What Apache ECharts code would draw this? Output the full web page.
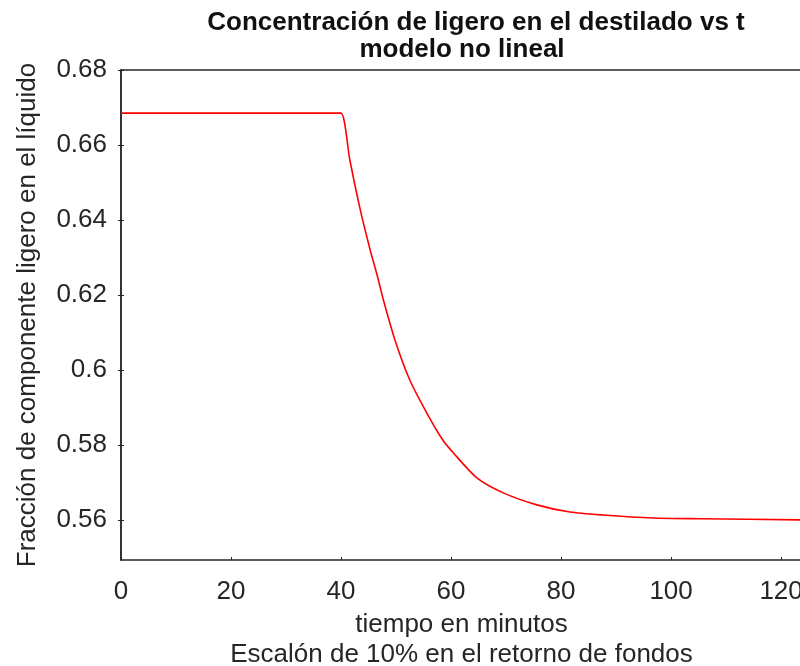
<!DOCTYPE html>
<html>
<head>
<meta charset="utf-8">
<script src="https://cdn.jsdelivr.net/npm/echarts@6/dist/echarts.min.js"></script>
<style>
  html, body { margin: 0; padding: 0; background: #ffffff; }
  #chart { width: 800px; height: 666px; }
</style>
</head>
<body>
<div id="chart"></div>
<script>
// Distillate light-component fraction after a 10% step in bottoms return
const tiempo = [0, 38, 40, 41.6, 43.5, 45.3, 46.7, 47.6, 49.8, 52.5, 55.6, 58.5, 60.4, 64.7, 69.5, 75.6, 81.6, 87.6, 96.7, 105.3, 124];
const fraccion = [0.6685, 0.6685, 0.6685, 0.656, 0.6427, 0.632, 0.6245, 0.6192, 0.608, 0.5973, 0.5885, 0.5813, 0.5779, 0.5712, 0.5672, 0.564, 0.5621, 0.5613, 0.5605, 0.5603, 0.5600];
const xTicks = [0, 20, 40, 60, 80, 100, 120];
const yTicks = [0.56, 0.58, 0.60, 0.62, 0.64, 0.66, 0.68];

const ink = '#262626';
const font = 'Liberation Sans, Arial, Helvetica, sans-serif';

const chart = echarts.init(document.getElementById('chart'), null, { renderer: 'canvas' });

const titleStyle = {
  fontFamily: font,
  fontSize: 26,
  fontWeight: 'bold',
  color: '#111111'
};

chart.setOption({
  backgroundColor: '#ffffff',
  animation: false,
  title: [
    {
      text: 'Concentración de ligero en el destilado vs t',
      left: 471,
      top: 5,
      textAlign: 'center',
      textStyle: titleStyle
    },
    {
      text: 'modelo no lineal',
      left: 457,
      top: 32,
      textAlign: 'center',
      textStyle: titleStyle
    }
  ],
  grid: { left: 121, top: 70, width: 681, height: 490, containLabel: false, outerBoundsMode: 'none' },
  xAxis: [
    {
      type: 'value',
      min: 0,
      max: 123.8,
      position: 'bottom',
      name: 'tiempo en minutos\nEscalón de 10% en el retorno de fondos',
      nameLocation: 'middle',
      nameGap: 47,
      nameTextStyle: { fontFamily: font, fontSize: 26, color: ink, lineHeight: 30 },
      axisLine: { show: true, lineStyle: { color: ink, width: 1.5 } },
      axisTick: { show: true, inside: true, length: 3, customValues: xTicks, lineStyle: { color: ink } },
      axisLabel: { customValues: xTicks, margin: 19, fontFamily: font, fontSize: 26, color: ink },
      splitLine: { show: false }
    },
    {
      type: 'value',
      min: 0,
      max: 123.8,
      position: 'top',
      axisLine: { show: true, lineStyle: { color: ink, width: 1.5 } },
      axisTick: { show: false },
      axisLabel: { show: false },
      splitLine: { show: false }
    }
  ],
  yAxis: [
    {
      type: 'value',
      min: 0.5493,
      max: 0.68,
      position: 'left',
      name: 'Fracción de componente ligero en el líquido',
      nameLocation: 'middle',
      nameRotate: 90,
      nameGap: 80,
      nameTextStyle: { fontFamily: font, fontSize: 26, color: ink },
      axisLine: { show: true, lineStyle: { color: ink, width: 1.5 } },
      axisTick: { show: true, inside: true, length: 3, customValues: yTicks, lineStyle: { color: ink } },
      axisLabel: {
        customValues: yTicks,
        margin: 14,
        fontFamily: font,
        fontSize: 26,
        color: ink,
        formatter: v => String(Number(v.toFixed(2)))
      },
      splitLine: { show: false }
    },
    {
      type: 'value',
      min: 0.5493,
      max: 0.68,
      position: 'right',
      axisLine: { show: true, lineStyle: { color: ink, width: 1.5 } },
      axisTick: { show: true, inside: true, length: 3, customValues: yTicks, lineStyle: { color: ink } },
      axisLabel: { show: false },
      splitLine: { show: false }
    }
  ],
  series: [
    {
      type: 'line',
      data: tiempo.map((t, i) => [t, fraccion[i]]),
      showSymbol: false,
      smooth: 0.25,
      lineStyle: { color: '#ff0000', width: 1.6 },
      clip: true
    }
  ]
});
</script>
</body>
</html>
